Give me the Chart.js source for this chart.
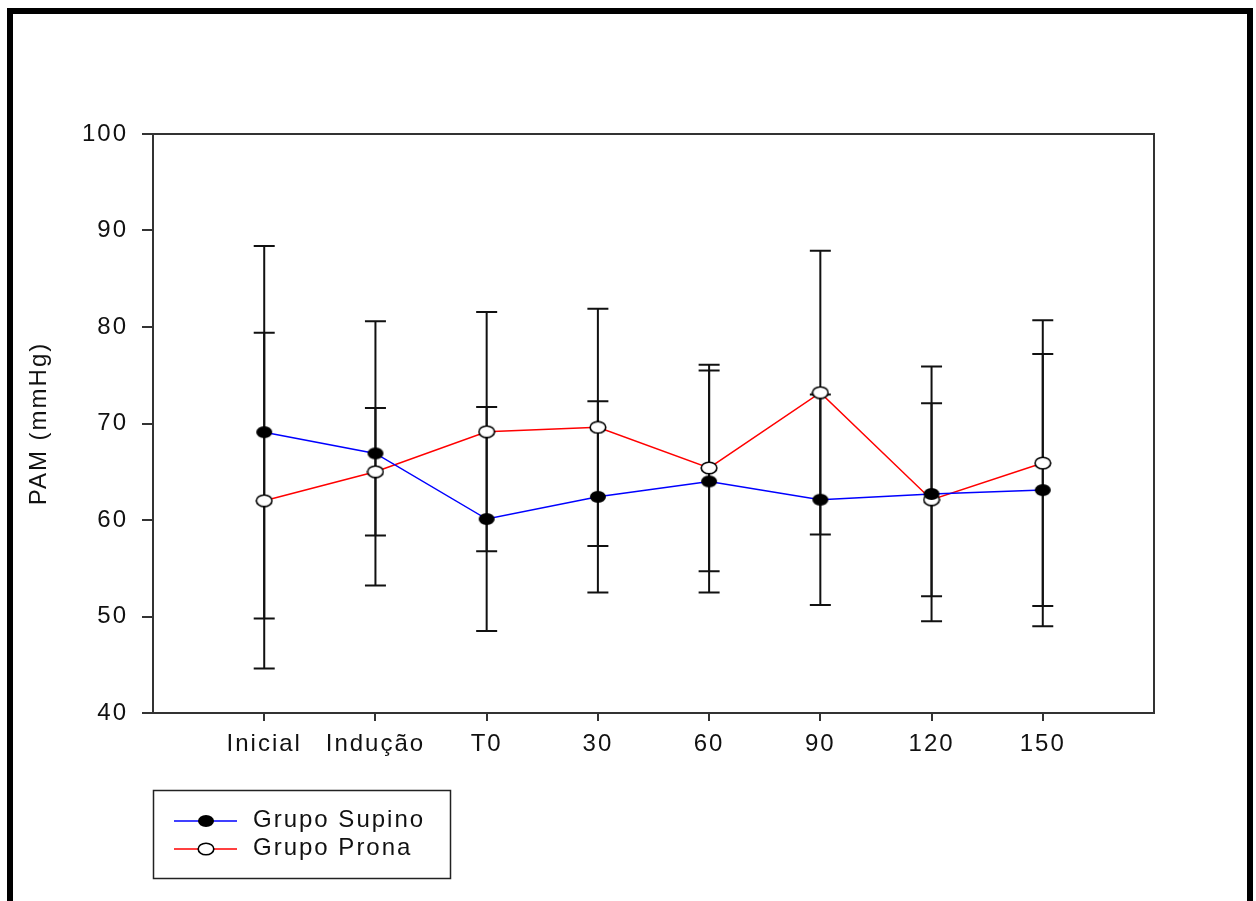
<!DOCTYPE html>
<html><head><meta charset="utf-8">
<script src="https://cdn.jsdelivr.net/npm/chart.js@4.4.0/dist/chart.umd.min.js"></script>
<style>html,body{margin:0;padding:0;background:#fff;}#wrap{width:1256px;height:901px;}</style>
</head><body><div id="wrap"><canvas id="c" width="1256" height="901"></canvas></div>
<script>
const categories = ['Inicial','Indução','T0','30','60','90','120','150'];
const supinoMean = [69.1, 66.9, 60.1, 62.4, 64.0, 62.1, 62.7, 63.1];
const supinoSD   = [19.3, 13.7, 11.6,  9.9, 11.5, 10.9, 13.2, 14.1];
const pronaMean  = [62.0, 65.0, 69.15, 69.6, 65.4, 73.2, 62.1, 65.9];
const pronaSD    = [17.4,  6.6, 12.4, 12.3, 10.7, 14.7, 10.0, 14.8];
const yTicks = [40, 50, 60, 70, 80, 90, 100];
const seriesNames = ['Grupo Supino', 'Grupo Prona'];
const yTitle = 'PAM (mmHg)';

const FONT = "'Liberation Sans', Arial, sans-serif";
const INK = '#111';

function makeMarker(filled) {
  const w = 18, h = 14;
  const c = document.createElement('canvas');
  c.width = w; c.height = h;
  const g = c.getContext('2d');
  g.beginPath();
  g.ellipse(w/2, h/2, filled ? 8 : 7.8, filled ? 6 : 5.8, 0, 0, Math.PI*2);
  if (filled) { g.fillStyle = '#000'; g.fill(); }
  else { g.fillStyle = '#fff'; g.fill(); g.lineWidth = 1.6; g.strokeStyle = '#000'; g.stroke(); }
  return c;
}
const markFilled = makeMarker(true);
const markOpen = makeMarker(false);

const errData = [
  {mean: supinoMean, sd: supinoSD},
  {mean: pronaMean, sd: pronaSD}
];

const spacingPlugin = {
  id: 'spacing',
  beforeUpdate(chart) { chart.ctx.letterSpacing = '2px'; },
  beforeDraw(chart) { chart.ctx.letterSpacing = '2px'; }
};

const bgPlugin = {
  id: 'bg',
  beforeDraw(chart) {
    const ctx = chart.ctx;
    ctx.save(); ctx.fillStyle = '#fff'; ctx.fillRect(0, 0, chart.width, chart.height); ctx.restore();
  }
};

const errorBarPlugin = {
  id: 'errbars',
  beforeDatasetsDraw(chart) {
    const ctx = chart.ctx, xs = chart.scales.x, ys = chart.scales.y;
    ctx.save();
    ctx.strokeStyle = INK; ctx.lineWidth = 2;
    errData.forEach(s => {
      s.mean.forEach((m, i) => {
        const x = xs.getPixelForValue(i + 1);
        const yt = ys.getPixelForValue(m + s.sd[i]);
        const yb = ys.getPixelForValue(m - s.sd[i]);
        ctx.beginPath();
        ctx.moveTo(x, yt); ctx.lineTo(x, yb);
        ctx.moveTo(x - 10.5, yt); ctx.lineTo(x + 10.5, yt);
        ctx.moveTo(x - 10.5, yb); ctx.lineTo(x + 10.5, yb);
        ctx.stroke();
      });
    });
    ctx.restore();
  }
};

const framePlugin = {
  id: 'frame',
  afterDraw(chart) {
    const ctx = chart.ctx, a = chart.chartArea;
    ctx.save();
    ctx.strokeStyle = '#333'; ctx.lineWidth = 2;
    ctx.beginPath();
    ctx.moveTo(a.left, a.top); ctx.lineTo(a.right, a.top); ctx.lineTo(a.right, a.bottom);
    ctx.stroke();
    ctx.strokeStyle = '#000'; ctx.lineWidth = 6;
    ctx.strokeRect(10, 11, 1240, 1000);
    // legend
    const lx = 153.5, ly = 790.5, lw = 297, lh = 88;
    ctx.lineWidth = 1.5; ctx.strokeStyle = '#222';
    ctx.strokeRect(lx, ly, lw, lh);
    const rows = [
      {y: 821, color: '#0000ff', img: markFilled, text: seriesNames[0]},
      {y: 849, color: '#ff0000', img: markOpen, text: seriesNames[1]}
    ];
    rows.forEach(r => {
      ctx.strokeStyle = r.color; ctx.lineWidth = 1.5;
      ctx.beginPath(); ctx.moveTo(174, r.y); ctx.lineTo(237, r.y); ctx.stroke();
      ctx.drawImage(r.img, 206 - r.img.width/2, r.y - r.img.height/2);
      ctx.fillStyle = INK; ctx.font = '24px ' + FONT;
      ctx.letterSpacing = '2px';
      ctx.textAlign = 'left'; ctx.textBaseline = 'alphabetic';
      ctx.fillText(r.text, 253, r.y + 6);
    });
    ctx.restore();
  }
};

function pts(arr) { return arr.map((v, i) => ({x: i + 1, y: v})); }

Chart.defaults.font.family = FONT;
Chart.defaults.font.size = 24;
Chart.defaults.color = INK;

new Chart(document.getElementById('c'), {
  type: 'line',
  data: {
    datasets: [
      {label: seriesNames[0], data: pts(supinoMean), borderColor: '#0000ff', borderWidth: 1.5,
       pointStyle: markFilled, pointRadius: 8, tension: 0, fill: false},
      {label: seriesNames[1], data: pts(pronaMean), borderColor: '#ff0000', borderWidth: 1.5,
       pointStyle: markOpen, pointRadius: 8, tension: 0, fill: false}
    ]
  },
  options: {
    responsive: false, animation: false, devicePixelRatio: 1,
    layout: {padding: {left: 0, top: 134, right: 102, bottom: 0}},
    plugins: {legend: {display: false}, tooltip: {enabled: false}},
    scales: {
      x: {
        type: 'linear', min: 0, max: 9,
        afterBuildTicks(s) { s.ticks = categories.map((c, i) => ({value: i + 1})); },
        afterFit(s) { s.height = 188; },
        ticks: {autoSkip: false, maxRotation: 0, padding: 9, callback: v => categories[v - 1] || ''},
        grid: {drawOnChartArea: false, drawTicks: true, tickLength: 8, color: '#333', lineWidth: 2},
        border: {display: true, color: '#333', width: 2}
      },
      y: {
        min: 40, max: 100,
        afterBuildTicks(s) { s.ticks = yTicks.map(v => ({value: v})); },
        afterFit(s) { s.width = 153; },
        ticks: {padding: 14},
        title: {display: true, text: yTitle, font: {size: 24}, padding: {top: 25, bottom: 0}},
        grid: {drawOnChartArea: false, drawTicks: true, tickLength: 11, color: '#333', lineWidth: 2},
        border: {display: true, color: '#333', width: 2}
      }
    }
  },
  plugins: [spacingPlugin, bgPlugin, errorBarPlugin, framePlugin]
});
</script></body></html>
